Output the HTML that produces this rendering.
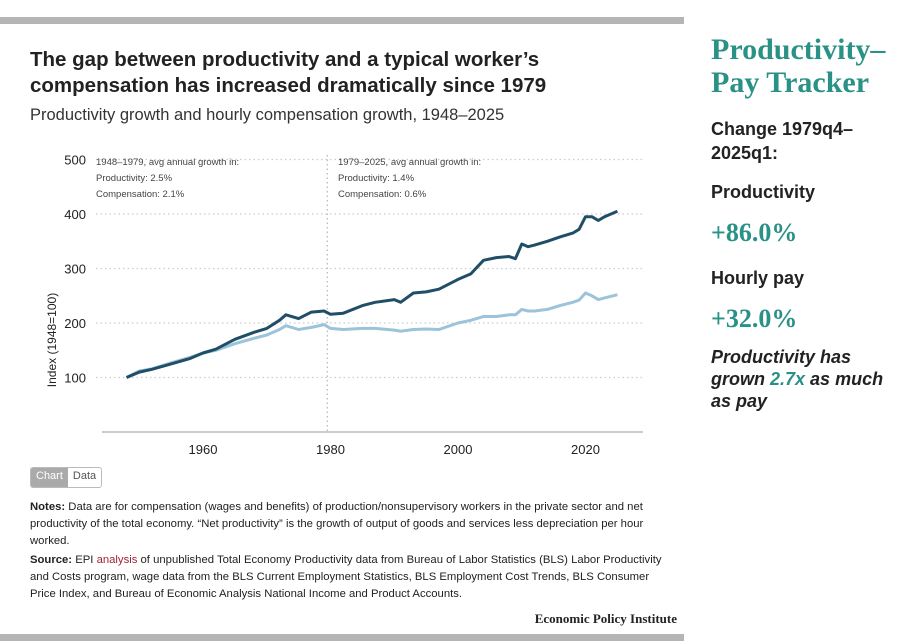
<!DOCTYPE html>
<html><head><meta charset="utf-8"><style>
body{margin:0;width:915px;height:641px;background:#fff;font-family:"Liberation Sans",sans-serif;color:#222;position:relative;overflow:hidden}
.a{position:absolute}
.note{font-size:11.3px;line-height:17px;color:#222;width:635px}
.side{font-size:18px;font-weight:bold;color:#222}
.big{font-family:"Liberation Serif",serif;font-weight:bold;color:#2a9187}
</style></head><body>
<div class="a" style="left:0;top:17px;width:684px;height:7px;background:#b5b5b5"></div>
<div class="a" style="left:30px;top:47px;font-size:20.5px;font-weight:bold;line-height:26px;width:600px">The gap between productivity and a typical worker’s<br>compensation has increased dramatically since 1979</div>
<div class="a" style="left:30px;top:106px;font-size:16.5px;color:#333">Productivity growth and hourly compensation growth, 1948–2025</div>
<svg class="a" style="left:0;top:140px" width="684" height="320" id="chart"></svg>
<div class="a" style="left:30px;top:467px;height:19px;border:1px solid #bbb;border-radius:3px;font-size:11px;display:flex;overflow:hidden">
<span style="background:#aaa;color:#fff;padding:2px 5px">Chart</span><span style="color:#555;padding:2px 5px">Data</span></div>
<div class="a note" style="left:30px;top:499px"><b>Notes:</b> Data are for compensation (wages and benefits) of production/nonsupervisory workers in the private sector and net productivity of the total economy. “Net productivity” is the growth of output of goods and services less depreciation per hour worked.</div>
<div class="a note" style="left:30px;top:552px"><b>Source:</b> EPI <span style="color:#a0243a">analysis</span> of unpublished Total Economy Productivity data from Bureau of Labor Statistics (BLS) Labor Productivity and Costs program, wage data from the BLS Current Employment Statistics, BLS Employment Cost Trends, BLS Consumer Price Index, and Bureau of Economic Analysis National Income and Product Accounts.</div>
<div class="a" style="right:238px;top:611px;font-family:'Liberation Serif',serif;font-weight:bold;font-size:13px">Economic Policy Institute</div>
<div class="a" style="left:0;top:634px;width:684px;height:7px;background:#b5b5b5"></div>

<div class="a big" style="left:711px;top:33px;font-size:30px;line-height:33px">Productivity–<br>Pay Tracker</div>
<div class="a side" style="left:711px;top:117px;line-height:24px">Change 1979q4–<br>2025q1:</div>
<div class="a side" style="left:711px;top:182px">Productivity</div>
<div class="a big" style="left:711px;top:218px;font-size:26px">+86.0%</div>
<div class="a side" style="left:711px;top:268px">Hourly pay</div>
<div class="a big" style="left:711px;top:304px;font-size:26px">+32.0%</div>
<div class="a side" style="left:711px;top:346px;font-style:italic;line-height:22px">Productivity has<br>grown <span style="color:#2a9187">2.7x</span> as much<br>as pay</div>

<script>
const years=[1948,1950,1952,1955,1958,1960,1962,1965,1968,1970,1972,1973,1975,1977,1979,1980,1982,1985,1987,1990,1991,1993,1995,1997,2000,2002,2004,2006,2008,2009,2010,2011,2012,2014,2016,2018,2019,2020,2021,2022,2023,2025];
const productivity=[100,110,115,125,135,145,152,170,183,190,205,215,208,220,222,216,218,232,238,243,238,255,257,262,280,290,315,320,322,318,345,340,343,350,358,365,372,395,395,388,395,405];
const compensation=[100,112,116,127,137,145,150,162,172,178,188,195,188,192,197,190,188,190,190,187,185,188,189,188,200,205,212,212,215,215,225,222,222,225,232,238,242,255,250,243,246,252];
const yTicks=[100,200,300,400,500];
const xTicks=[1960,1980,2000,2020];
const NS="http://www.w3.org/2000/svg";
const svg=document.getElementById('chart');
const x=v=>203+(v-1960)*6.375;
const y=v=>292-v*0.545;
function el(t,a){const e=document.createElementNS(NS,t);for(const k in a)e.setAttribute(k,a[k]);svg.appendChild(e);return e;}
yTicks.forEach(t=>{
 const g=el('line',{x1:96,x2:643,y1:y(t),y2:y(t),stroke:'#ccc','stroke-width':1.3,'stroke-dasharray':'1.5,3'});
 
 
 const l=el('text',{x:86,y:y(t)+5,'text-anchor':'end','font-size':13,fill:'#222'});l.textContent=t;
 
 
});
const ax=el('line',{x1:102,x2:643,y1:292,y2:292,stroke:'#999','stroke-width':1});


xTicks.forEach(t=>{
 const l=el('text',{x:x(t),y:314,'text-anchor':'middle','font-size':13,fill:'#222'});l.textContent=t;
 
 
});
const vl=el('line',{x1:x(1979.5),x2:x(1979.5),y1:15,y2:292,stroke:'#bbb','stroke-width':1.3,'stroke-dasharray':'1.5,3'});


const yt=el('text',{transform:'translate(56,200) rotate(-90)','font-size':12,fill:'#222','text-anchor':'middle'});yt.textContent='Index (1948=100)';


[[96,['1948–1979, avg annual growth in:','Productivity: 2.5%','Compensation: 2.1%']],[338,['1979–2025, avg annual growth in:','Productivity: 1.4%','Compensation: 0.6%']]].forEach((b,i)=>{
 b[1].forEach((s,j)=>{const t=el('text',{x:b[0],y:25+j*16,'font-size':9.5,fill:'#444'});t.textContent=s;
 
 });
});
function line(vals,col,name){
 const d=years.map((yr,i)=>(i?'L':'M')+x(yr).toFixed(1)+','+y(vals[i]).toFixed(1)).join('');
 const p=el('path',{d:d,fill:'none',stroke:col,'stroke-width':3,'stroke-linejoin':'round'});
 
 
}
line(compensation,'#9cc3da','compensation-line');
line(productivity,'#1f4e66','productivity-line');
</script>
</body></html>
